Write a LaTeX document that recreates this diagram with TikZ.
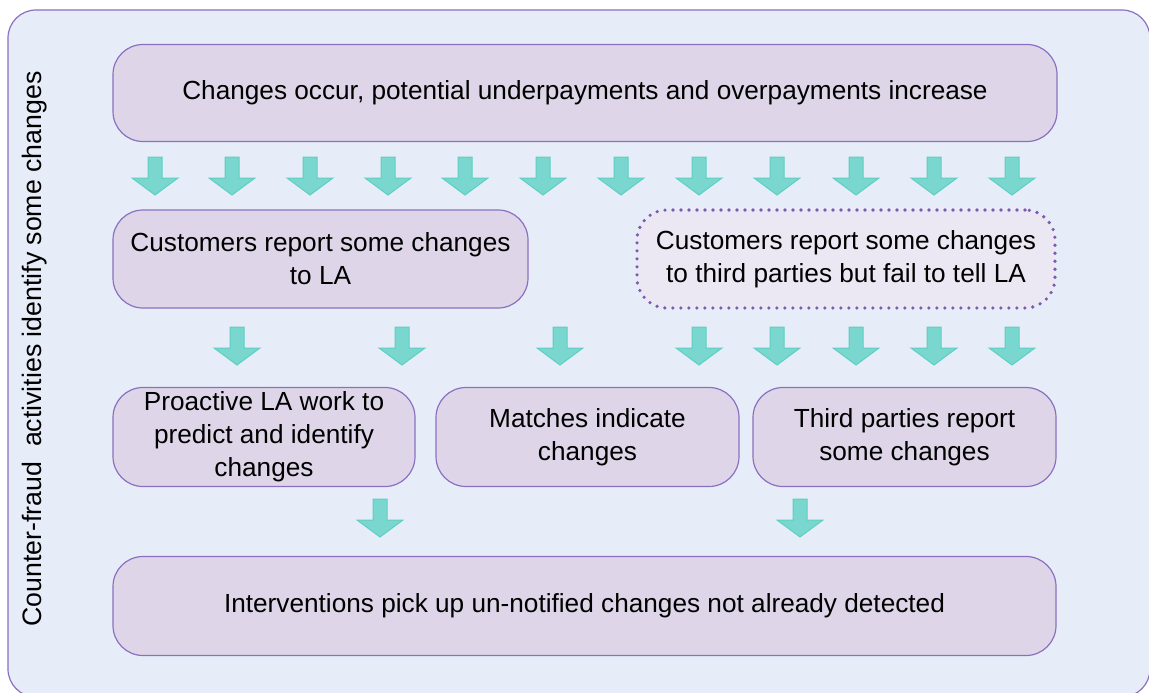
\documentclass[tikz,border=0pt]{standalone}
\usepackage{fontspec}
\setmainfont{Liberation Sans}
\definecolor{panel}{HTML}{E7EDF8}
\definecolor{boxfill}{HTML}{DED6E8}
\definecolor{boxline}{HTML}{8A70C0}
\definecolor{dotfill}{HTML}{ECE8F3}
\definecolor{dotline}{HTML}{7A5BAE}
\definecolor{arrfill}{HTML}{79D7CF}
\definecolor{arrline}{HTML}{5ECFC2}

\begin{document}
\begin{tikzpicture}[x=1pt,y=-1pt,line width=1.2pt,
  box/.style={draw=boxline,fill=boxfill,rounded corners=30pt,align=center,inner sep=0pt,
    font=\fontsize{26.2}{33}\selectfont},
  dotbox/.style={box,draw=dotline,fill=dotfill,line width=3.6pt,dash pattern=on 0pt off 8pt,line cap=round},
  blockarrow/.pic={\filldraw[draw=arrline,fill=arrfill,line width=1pt]
    (-7,0)--(7,0)--(7,21)--(23,21)--(0,38)--(-23,21)--(-7,21)--cycle;}]
\useasboundingbox (0,0) rectangle (1149,693);
\fill[white] (0,0) rectangle (1149,693);
\filldraw[draw=boxline,fill=panel,rounded corners=28pt] (8,10) rectangle (1150,697);
% side label
\node[rotate=90,font=\fontsize{26.7}{30}\selectfont] (side) at (35,349) {Counter-fraud\ \ activities identify some changes};
% boxes
\node[box,minimum width=944pt,minimum height=97pt] (occur) at (585,93) {Changes occur, potential underpayments and overpayments increase};
\node[box,minimum width=415pt,minimum height=98pt] (tola) at (320.5,259) {Customers report some changes\\to LA};
\node[dotbox,minimum width=418pt,minimum height=98pt] (third) at (846,259) {Customers report some changes\\to third parties but fail to tell LA};
\node[box,minimum width=302pt,minimum height=99pt] (proact) at (264,437) {Proactive LA work to\\predict and identify\\changes};
\node[box,minimum width=303pt,minimum height=99pt] (match) at (587.5,437) {Matches indicate\\changes};
\node[box,minimum width=303pt,minimum height=99pt] (report) at (904.5,437) {Third parties report\\some changes};
\node[box,minimum width=943pt,minimum height=99pt] (interv) at (584.5,606) {Interventions pick up un-notified changes not already detected};
% arrows between the rows
\foreach \x in {155,232,310,388,465,543,621,699,777,856,934,1012}{\pic at (\x,157) {blockarrow};};
\foreach \x in {237,402,560,699,777,856,934,1012}{\pic at (\x,327) {blockarrow};};
\foreach \x in {380,800}{\pic at (\x,499) {blockarrow};};
\end{tikzpicture}
\end{document}
